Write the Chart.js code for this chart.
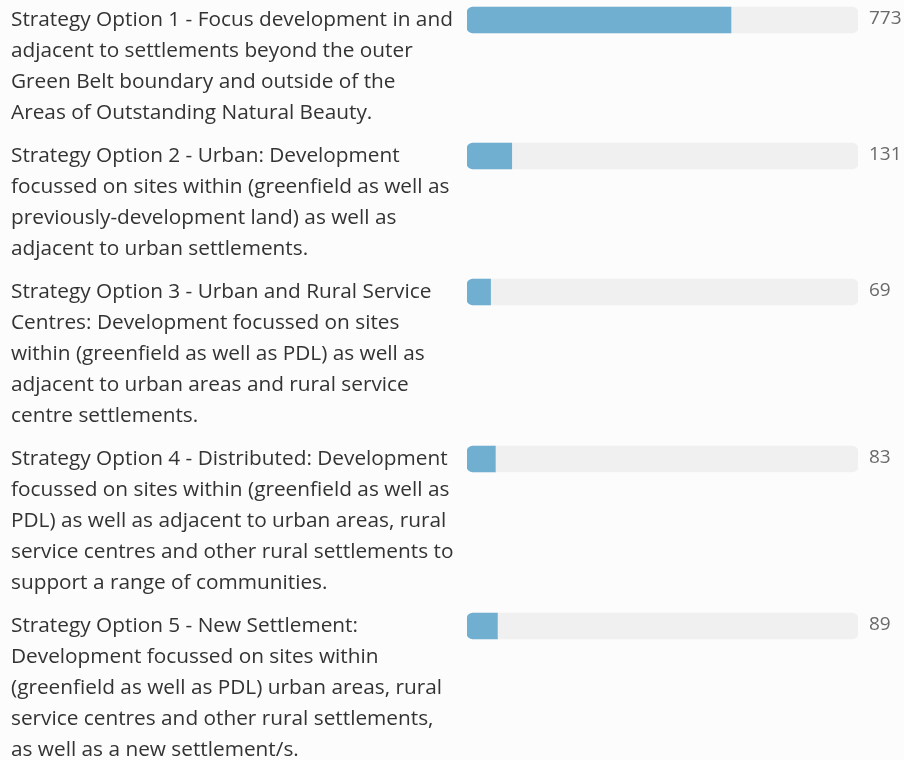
<!DOCTYPE html>
<html>
<head>
<meta charset="utf-8">
<script src="https://cdn.jsdelivr.net/npm/chart.js@4"></script>
<style>
  html, body { margin: 0; padding: 0; background: #fcfcfc; }
  #wrap { width: 904px; height: 760px; }
</style>
</head>
<body>
<div id="wrap"><canvas id="myChart" width="904" height="760"></canvas></div>
<script>
// Options, pre-split into the lines shown in the picture
const categories = [
  ["Strategy Option 1 - Focus development in and",
   "adjacent to settlements beyond the outer",
   "Green Belt boundary and outside of the",
   "Areas of Outstanding Natural Beauty."],
  ["Strategy Option 2 - Urban: Development",
   "focussed on sites within (greenfield as well as",
   "previously-development land) as well as",
   "adjacent to urban settlements."],
  ["Strategy Option 3 - Urban and Rural Service",
   "Centres: Development focussed on sites",
   "within (greenfield as well as PDL) as well as",
   "adjacent to urban areas and rural service",
   "centre settlements."],
  ["Strategy Option 4 - Distributed: Development",
   "focussed on sites within (greenfield as well as",
   "PDL) as well as adjacent to urban areas, rural",
   "service centres and other rural settlements to",
   "support a range of communities."],
  ["Strategy Option 5 - New Settlement:",
   "Development focussed on sites within",
   "(greenfield as well as PDL) urban areas, rural",
   "service centres and other rural settlements,",
   "as well as a new settlement/s."]
];
const responses = [773, 131, 69, 83, 89];

const total = responses.reduce((a, b) => a + b, 0);

// each row is as tall as its label text
const lineHeight = 31;
const rowGap = 12;
const rowCentres = [];
let rowTop = 0;
categories.forEach(lines => {
  rowCentres.push(rowTop + 20);
  rowTop += lines.length * lineHeight + rowGap;
});

const labelPlugin = {
  id: 'rowLabels',
  afterDraw(chart) {
    const ctx = chart.ctx;
    const xs = chart.scales.x;
    const ys = chart.scales.y;
    ctx.save();
    ctx.textBaseline = 'alphabetic';
    categories.forEach((lines, i) => {
      const cy = ys.getPixelForValue(rowCentres[i]);
      ctx.font = '20.8px "Open Sans"';
      ctx.fillStyle = '#333333';
      ctx.textAlign = 'left';
      lines.forEach((line, j) => {
        ctx.fillText(line, 11, cy + 5.5 + j * lineHeight);
      });
      ctx.font = '19px "Open Sans"';
      ctx.fillStyle = '#6a6a6a';
      ctx.fillText(String(responses[i]), xs.right + 11, cy + 4);
    });
    ctx.restore();
  }
};

const ctx = document.getElementById('myChart').getContext('2d');
const chart = new Chart(ctx, {
  type: 'bar',
  data: {
    datasets: [{
      data: responses.map((v, i) => ({ x: v, y: rowCentres[i] })),
      backgroundColor: '#70afd0',
      borderRadius: { topLeft: 6, bottomLeft: 6, topRight: 0, bottomRight: 0 },
      borderSkipped: false,
      barThickness: 26,
      grouped: false
    }, {
      data: responses.map((v, i) => ({ x: total, y: rowCentres[i] })),
      backgroundColor: '#f0f0f0',
      borderRadius: 6,
      borderSkipped: false,
      barThickness: 26,
      grouped: false
    }]
  },
  options: {
    indexAxis: 'y',
    responsive: false,
    animation: false,
    layout: { padding: { left: 467, right: 46, top: 0, bottom: 0 } },
    scales: {
      x: { type: 'linear', min: 0, max: total, display: false },
      y: { type: 'linear', min: 0, max: 760, reverse: true, offset: false, display: false }
    },
    plugins: {
      legend: { display: false },
      tooltip: { enabled: false }
    }
  },
  plugins: [labelPlugin]
});
</script>
</body>
</html>
